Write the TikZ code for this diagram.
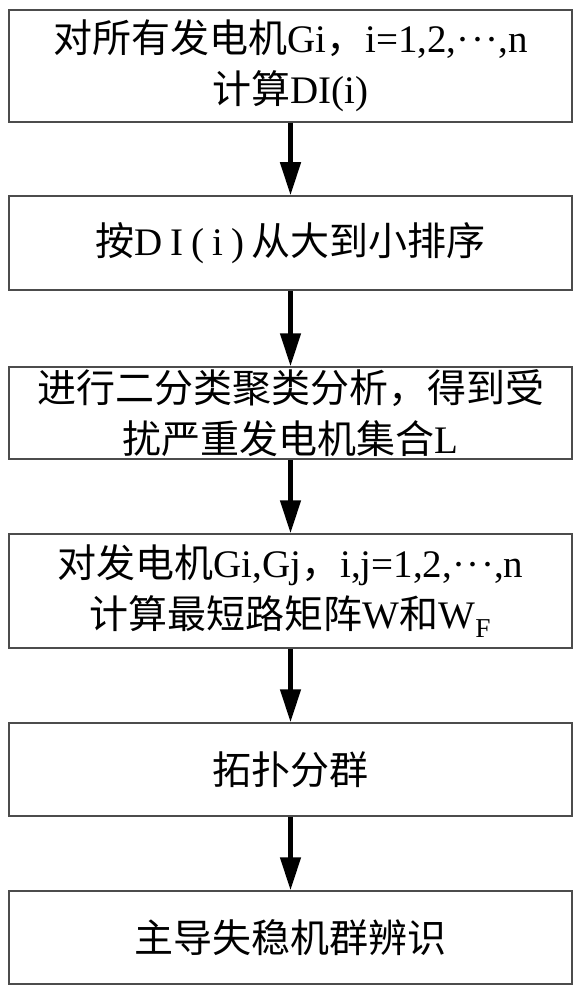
\documentclass[tikz,border=0pt]{standalone}
\usepackage{fontspec}
\setmainfont{Liberation Serif}
\newfontfamily\cjk{Noto Sans CJK SC}
\usetikzlibrary{arrows.meta}
\newcommand{\mydots}{·\kern1.5pt·\kern1.5pt·}
\begin{document}
\begin{tikzpicture}[x=1pt,y=-1pt,
  box/.style={draw=black!70, line width=1.5pt, minimum width=563pt, inner sep=0pt,
    align=center, font=\fontsize{39}{51}\selectfont},
  arr/.style={line width=4.7pt, -{Triangle[width=20pt,length=33pt]}}]
\useasboundingbox (0,0) rectangle (583,1000);
\node[box, minimum height=112pt] (b1) at (290.5,66)
  {{\cjk 对所有发电机}Gi{\cjk ，}i=1,2,\mydots,n\\{\cjk 计算}DI(i)};
\node[box, minimum height=94pt] (b2) at (290.5,243)
  {{\cjk 按}{\addfontfeature{LetterSpace=20}DI(i)\kern7pt}{\cjk 从大到小排序}};
\node[box, minimum height=92pt] (b3) at (290.5,413)
  {{\cjk 进行二分类聚类分析，得到受}\\{\cjk 扰严重发电机集合}L};
\node[box, minimum height=114pt] (b4) at (290.5,591)
  {{\cjk 对发电机}Gi,Gj{\cjk ，}i,j=1,2,\mydots,n\\{\cjk 计算最短路矩阵}W{\cjk 和}W\textsubscript{F}};
\node[box, minimum height=93pt] (b5) at (290.5,769.5) {{\cjk 拓扑分群}};
\node[box, minimum height=93pt] (b6) at (290.5,937.5) {{\cjk 主导失稳机群辨识}};
\draw[arr] (b1.south) -- (b2.north);
\draw[arr] (b2.south) -- (b3.north);
\draw[arr] (b3.south) -- (b4.north);
\draw[arr] (b4.south) -- (b5.north);
\draw[arr] (b5.south) -- (b6.north);
\end{tikzpicture}
\end{document}
